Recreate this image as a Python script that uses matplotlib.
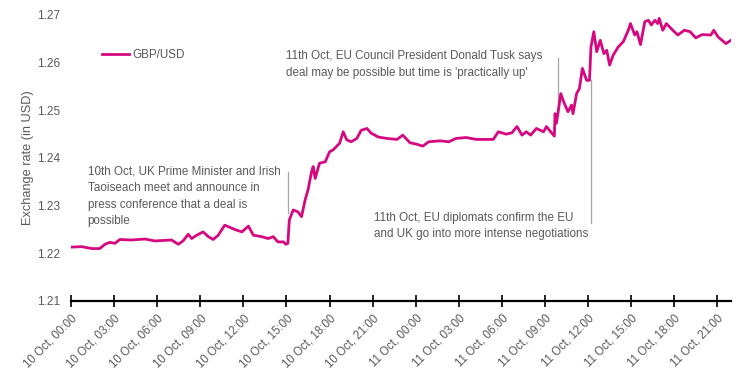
import numpy as np
import matplotlib
matplotlib.use("Agg")
import matplotlib.pyplot as plt

# -----------------------------
# Data (hours since 10 Oct 00:00, GBP/USD)
# -----------------------------
hours = [
    0.0, 0.74, 1.44, 2.0, 2.37, 2.7, 3.06, 3.4, 4.2, 5.15, 5.85, 7.0, 7.47, 7.8,
    8.16, 8.4, 8.75, 9.2, 9.56, 9.9, 10.25, 10.7, 10.95, 11.4, 11.9, 12.35, 12.7,
    13.27, 13.73, 14.08, 14.4, 14.8, 14.95, 15.1, 15.2, 15.47, 15.8, 16.05, 16.3,
    16.5, 16.75, 16.86, 17.0, 17.3, 17.7, 18.0, 18.25, 18.7, 18.95, 19.2, 19.5,
    19.9, 20.2, 20.6, 20.9, 21.4, 22.0, 22.7, 23.1, 23.6, 24.05, 24.5, 24.9, 25.7,
    26.3, 26.8, 27.5, 28.2, 29.4, 29.75, 30.3, 30.7, 31.05, 31.4, 31.7, 32.0, 32.4,
    32.9, 33.1, 33.45, 33.65, 33.7, 33.8, 34.1, 34.3, 34.6, 34.85, 34.95, 35.2,
    35.4, 35.6, 35.9, 36.1, 36.2, 36.4, 36.6, 36.85, 37.1, 37.3, 37.5, 37.75,
    38.1, 38.45, 38.8, 38.95, 39.25, 39.4, 39.65, 39.95, 40.2, 40.4, 40.65, 40.85,
    40.95, 41.2, 41.45, 41.9, 42.25, 42.7, 43.1, 43.5, 43.95, 44.55, 44.75, 45.05,
    45.6, 45.95,
]
gbpusd = [
    1.2213, 1.2214, 1.2210, 1.2210, 1.2219, 1.2223, 1.2221, 1.2229, 1.2228,
    1.2230, 1.2226, 1.2228, 1.2219, 1.2226, 1.2240, 1.2231, 1.2238, 1.2245,
    1.2235, 1.2229, 1.2238, 1.2259, 1.2256, 1.2250, 1.2245, 1.2257, 1.2238,
    1.2235, 1.2231, 1.2235, 1.2224, 1.2224, 1.2219, 1.2221, 1.2270, 1.2291,
    1.2287, 1.2277, 1.2312, 1.2333, 1.2371, 1.2382, 1.2357, 1.2389, 1.2392,
    1.2413, 1.2417, 1.2431, 1.2455, 1.2438, 1.2434, 1.2441, 1.2458, 1.2462,
    1.2452, 1.2444, 1.2441, 1.2439, 1.2448, 1.2432, 1.2429, 1.2425, 1.2434,
    1.2436, 1.2434, 1.2441, 1.2443, 1.2439, 1.2439, 1.2455, 1.2450, 1.2453,
    1.2466, 1.2448, 1.2455, 1.2448, 1.2462, 1.2455, 1.2466, 1.2453, 1.2446,
    1.2493, 1.2473, 1.2535, 1.2518, 1.2497, 1.2511, 1.2493, 1.2535, 1.2546,
    1.2588, 1.2563, 1.2563, 1.2633, 1.2665, 1.2623, 1.2647, 1.2619, 1.2626,
    1.2595, 1.2616, 1.2633, 1.2644, 1.2668, 1.2682, 1.2658, 1.2665, 1.2638,
    1.2686, 1.2689, 1.2679, 1.2689, 1.2682, 1.2693, 1.2668, 1.2682, 1.2668,
    1.2658, 1.2668, 1.2665, 1.2652, 1.2659, 1.2658, 1.2668, 1.2654, 1.2640,
    1.2647,
]

tick_hours = list(range(0, 46, 3))
tick_labels = [
    "10 Oct, 00:00", "10 Oct, 03:00", "10 Oct, 06:00", "10 Oct, 09:00",
    "10 Oct, 12:00", "10 Oct, 15:00", "10 Oct, 18:00", "10 Oct, 21:00",
    "11 Oct, 00:00", "11 Oct, 03:00", "11 Oct, 06:00", "11 Oct, 09:00",
    "11 Oct, 12:00", "11 Oct, 15:00", "11 Oct, 18:00", "11 Oct, 21:00",
]
y_ticks = [1.21, 1.22, 1.23, 1.24, 1.25, 1.26, 1.27]

# annotations: text, text position, marker line (hour, y from, y to)
notes = [
    "10th Oct, UK Prime Minister and Irish\nTaoiseach meet and announce in\n"
    "press conference that a deal is\npossible",
    "11th Oct, EU Council President Donald Tusk says\n"
    "deal may be possible but time is 'practically up'",
    "11th Oct, EU diplomats confirm the EU\nand UK go into more intense negotiations",
]
note_x = [1.15, 15.0, 21.1]
note_y = [1.2384, 1.2626, 1.2287]
mark_hour = [15.1, 33.9, 36.2]
mark_top = [1.2371, 1.2609, 1.2563]
mark_bottom = [1.2285, 1.2494, 1.2264]

# -----------------------------
# Plot
# -----------------------------
plt.rcParams["font.family"] = ["Liberation Sans", "DejaVu Sans"]
GREY = "#595959"
PINK = "#D6087F"

fig = plt.figure(figsize=(7.56, 3.79), dpi=100)
ax = fig.add_axes([71 / 756, 1 - 301 / 379, 660 / 756, 286 / 379])

ax.plot(hours, gbpusd, color=PINK, linewidth=2.0, label="GBP/USD", zorder=3)

for h, y0, y1 in zip(mark_hour, mark_bottom, mark_top):
    ax.plot([h, h], [y0, y1], color="#A6A6A6", linewidth=0.9, zorder=2)

for txt, x, y in zip(notes, note_x, note_y):
    ax.text(x, y, txt, fontsize=8.4, color=GREY, va="top", ha="left",
            linespacing=1.5)

ax.set_xlim(0, 45.95)
ax.set_ylim(1.21, 1.27)
ax.set_xticks(tick_hours)
ax.set_xticklabels(tick_labels, rotation=45, ha="right",
                   rotation_mode="anchor", fontsize=8.3, color=GREY)
ax.set_yticks(y_ticks)
ax.set_yticklabels([f"{v:.2f}" for v in y_ticks], fontsize=8.6, color=GREY)

for s in ["top", "right", "left"]:
    ax.spines[s].set_visible(False)
ax.spines["bottom"].set_linewidth(1.6)
ax.spines["bottom"].set_color("black")
ax.tick_params(axis="x", direction="inout", length=8, width=1.2,
               color="black", pad=4)
ax.tick_params(axis="y", length=0, pad=8)

ax.set_ylabel("Exchange rate (in USD)", fontsize=9.2, color=GREY, labelpad=2)

ax.legend(loc="center left", bbox_to_anchor=(0.047, 0.86), frameon=False,
          fontsize=8.4, handlelength=2.3, handletextpad=0.3,
          borderaxespad=0, borderpad=0, labelcolor=GREY)

plt.savefig("out.png", dpi=100)
plt.close()
